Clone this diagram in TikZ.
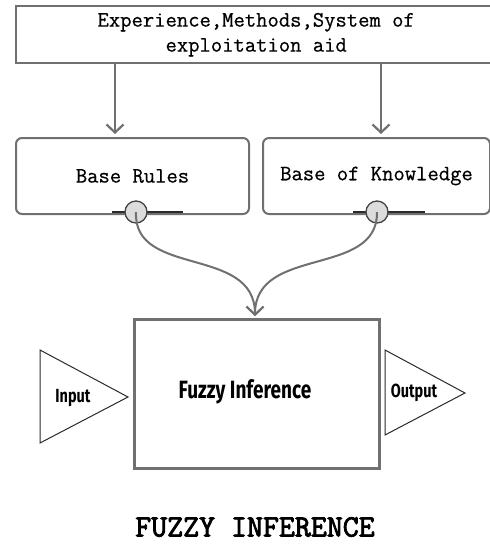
\documentclass[tikz,border=0pt]{standalone}
\usepackage{fontspec}
\newfontfamily\handfont[FakeStretch=0.76]{Fira Sans}
\newfontfamily\boxfont[FakeBold=0.6]{Latin Modern Mono}
\newfontfamily\capfont[FakeBold=2.6]{Latin Modern Mono}
\usetikzlibrary{arrows.meta}
\definecolor{boxgray}{HTML}{707070}
\definecolor{stubdark}{HTML}{2A2A2A}
\definecolor{knob}{HTML}{DCDCDC}

\begin{document}
\begin{tikzpicture}[x=1pt,y=-1pt,
  box/.style={draw=boxgray, line width=2.4pt, fill=white, inner sep=0pt},
  roundbox/.style={box, line width=2pt, rounded corners=6pt},
  mono/.style={font=\boxfont\fontsize{22}{25}\selectfont, align=center},
  hand/.style={font=\handfont\bfseries\fontsize{#1}{#1}\selectfont, inner sep=0pt},
  conn/.style={draw=boxgray, line width=2.2pt,
    -{Straight Barb[length=8pt,width=17pt,line width=2.2pt]}},
  curve/.style={draw=boxgray, line width=2pt,
    -{Straight Barb[length=8pt,width=17pt,line width=2pt]}},
  stub/.style={draw=stubdark, line width=1.6pt},
  joint/.style={circle, draw=boxgray!60!black, line width=1.3pt, fill=knob,
    minimum size=22pt, inner sep=0pt},
  tri/.style={draw=stubdark, line width=1pt, line join=miter}]

\clip (0,0) rectangle (490,550);
\fill[white] (0,0) rectangle (490,550);

% source of expertise, running off the right edge
\node[box, mono, minimum width=480pt, minimum height=57pt, anchor=north west]
  (src) at (15,5) {Experience,Methods,System of\\exploitation aid};

% the two rule bases
\node[roundbox, mono, minimum width=233pt, minimum height=76pt, anchor=north west]
  (rules) at (15,137) {Base Rules};
\node[roundbox, mono, minimum width=227pt, minimum height=76pt, anchor=north west]
  (know) at (262,137) {Base of Knowledge};

% inference block
\node[box, line width=2.8pt, minimum width=245pt, minimum height=149pt, anchor=north west]
  (fuz) at (133,318) {};
\node[hand=25] (fuzlbl) at (245,392) {Fuzzy Inference};

% input / output triangles
\draw[tri] (40,350) -- (128,397) -- (40,443) -- cycle;
\node[hand=19] (inlbl) at (73,398) {Input};
\draw[tri] (385,350) -- (465,393) -- (385,435) -- cycle;
\node[hand=19] (outlbl) at (414,393) {Output};

% arrows from the source down to the bases
\coordinate (colL) at (115,0);
\coordinate (colR) at (381,0);
\draw[conn] (src.south -| colL) -- ([yshift=3pt]rules.north -| colL);
\draw[conn] (src.south -| colR) -- ([yshift=3pt]know.north -| colR);

% output ports of the bases
\draw[stub] (112,212) -- (183,212);
\draw[stub] (353,212) -- (425,212);
\node[joint] (pL) at (136,212) {};
\node[joint] (pR) at (377,212) {};

% merging curves into the inference block
\coordinate (merge) at (255,316);
\draw[curve] (pL.center) .. controls (133,278) and (255,245) .. (merge);
\draw[curve] (pR.center) .. controls (378,278) and (255,245) .. (merge);

% caption
\node[font=\capfont\fontsize{31}{31}\selectfont] (cap) at (255,527)
  {FUZZY INFERENCE};
\end{tikzpicture}
\end{document}
